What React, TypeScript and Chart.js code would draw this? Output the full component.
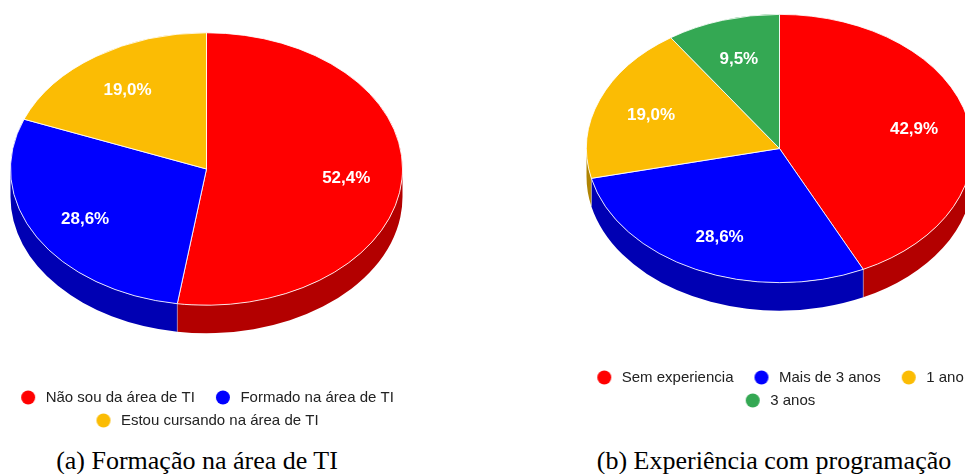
import React, { useEffect, useRef } from 'react';
import { Chart, registerables } from 'chart.js';

Chart.register(...registerables);

// ---- data ----
const formacaoLabels = ['Não sou da área de TI', 'Formado na área de TI', 'Estou cursando na área de TI'];
const formacaoValues = [11, 6, 4];
const formacaoColors = ['#ff0000', '#0000ff', '#fbbc04'];
const formacaoSideColors = ['#b30000', '#0000b3', '#b08403'];

const experienciaLabels = ['Sem experiencia', 'Mais de 3 anos', '1 ano', '3 anos'];
const experienciaValues = [9, 6, 4, 2];
const experienciaColors = ['#ff0000', '#0000ff', '#fbbc04', '#34a853'];
const experienciaSideColors = ['#b30000', '#0000b3', '#b08403', '#24763a'];

const captionA = '(a) Formação na área de TI';
const captionB = '(b) Experiência com programação';

const SANS = 'Arial, "Liberation Sans", sans-serif';

function makeDot(color: string) {
  const c = document.createElement('canvas');
  c.width = 30;
  c.height = 15;
  const g = c.getContext('2d')!;
  g.fillStyle = color;
  g.beginPath();
  g.arc(20, 7.5, 7, 0, Math.PI * 2);
  g.fill();
  return c;
}

function makePie3d(sideColors: string[], ratio: number, depth: number, lift: number, shiftX: number) {
  let state: any = null;
  return {
    id: 'pie3d',
    beforeDatasetsDraw(chart: any) {
      const meta = chart.getDatasetMeta(0);
      const arcs = meta.data;
      if (!arcs.length) return;
      const p = arcs[0].getProps(['x', 'y', 'outerRadius'], true);
      const cx = p.x + shiftX, cy = p.y, r = p.outerRadius;
      const ry = r * ratio;
      const topCy = cy - lift;
      state = { cx, cy, r, ry, topCy };
      const ctx = chart.ctx;
      // side walls
      arcs.forEach((arc: any, i: number) => {
        const { startAngle: s, endAngle: e } = arc.getProps(['startAngle', 'endAngle'], true);
        const a = Math.max(s, 0);
        const b = Math.min(e, Math.PI);
        if (a >= b) return;
        ctx.beginPath();
        ctx.ellipse(cx, topCy, r, ry, 0, a, b, false);
        ctx.ellipse(cx, topCy + depth, r, ry, 0, b, a, true);
        ctx.closePath();
        ctx.fillStyle = sideColors[i];
        ctx.fill();
      });
      // seams on the side
      ctx.save();
      ctx.strokeStyle = 'rgba(255,255,255,0.35)';
      ctx.lineWidth = 1;
      arcs.forEach((arc: any) => {
        const { startAngle: s } = arc.getProps(['startAngle'], true);
        const ang = ((s % (Math.PI * 2)) + Math.PI * 2) % (Math.PI * 2);
        if (ang > 0.01 && ang < Math.PI - 0.01) {
          const x = cx + r * Math.cos(ang);
          const y = topCy + ry * Math.sin(ang);
          ctx.beginPath();
          ctx.moveTo(x, y);
          ctx.lineTo(x, y + depth);
          ctx.stroke();
        }
      });
      ctx.restore();
      // squash the top face
      ctx.save();
      ctx.translate(shiftX, topCy);
      ctx.scale(1, ratio);
      ctx.translate(0, -cy);
    },
    afterDatasetsDraw(chart: any) {
      if (!state) return;
      const ctx = chart.ctx;
      ctx.restore();
      const { cx, r, ry, topCy } = state;
      const meta = chart.getDatasetMeta(0);
      const values: number[] = chart.data.datasets[0].data;
      const total = values.reduce((s2, v) => s2 + v, 0);
      ctx.save();
      ctx.font = 'bold 17px ' + SANS;
      ctx.fillStyle = '#ffffff';
      ctx.textAlign = 'center';
      ctx.textBaseline = 'middle';
      meta.data.forEach((arc: any, i: number) => {
        const { startAngle: s, endAngle: e } = arc.getProps(['startAngle', 'endAngle'], true);
        const mid = (s + e) / 2;
        const f = 0.715;
        const x = cx + Math.cos(mid) * r * f;
        const y = topCy + Math.sin(mid) * ry * f + 2;
        const txt = ((values[i] / total) * 100).toFixed(1).replace('.', ',') + '%';
        ctx.fillText(txt, x, y);
      });
      ctx.restore();
    },
  };
}

type PieProps = {
  labels: string[];
  values: number[];
  colors: string[];
  sideColors: string[];
  left: number;
  top: number;
  height: number;
  lift: number;
};

function Pie3D({ labels, values, colors, sideColors, left, top, height, lift }: PieProps) {
  const ref = useRef<HTMLCanvasElement | null>(null);
  useEffect(() => {
    if (!ref.current) return;
    const dots = colors.map(makeDot);
    const chart = new Chart(ref.current, {
      type: 'pie',
      data: {
        labels,
        datasets: [
          {
            data: values,
            backgroundColor: colors,
            borderColor: '#ffffff',
            borderWidth: 1,
          },
        ],
      },
      options: {
        responsive: false,
        animation: false,
        events: [],
        layout: { padding: 0 },
        plugins: {
          tooltip: { enabled: false },
          legend: {
            position: 'bottom',
            labels: {
              usePointStyle: true,
              pointStyleWidth: 30,
              padding: 8,
              color: '#222222',
              font: { family: SANS, size: 15 },
              generateLabels: () =>
                labels.map((t, i) => ({
                  text: t,
                  fillStyle: colors[i],
                  strokeStyle: colors[i],
                  fontColor: '#222222',
                  lineWidth: 0,
                  pointStyle: dots[i],
                  hidden: false,
                  index: i,
                })),
            },
          },
        },
      } as any,
      plugins: [makePie3d(sideColors, 0.695, 28, lift, 5.5) as any],
    });
    return () => chart.destroy();
  }, []);
  return (
    <canvas
      ref={ref}
      width={440}
      height={height}
      style={{ position: 'absolute', left, top, width: 440, height }}
    />
  );
}

const captionStyle: React.CSSProperties = {
  position: 'absolute',
  top: 446,
  fontFamily: '"Times New Roman", "Liberation Serif", serif',
  fontSize: 26,
  color: '#000',
  whiteSpace: 'pre',
  transform: 'translateX(-50%)',
};

export default function App() {
  return (
    <div
      style={{
        position: 'fixed',
        left: 0,
        top: 0,
        width: 965,
        height: 474,
        overflow: 'hidden',
        background: '#ffffff',
      }}
    >
      <Pie3D
        labels={formacaoLabels}
        values={formacaoValues}
        colors={formacaoColors}
        sideColors={formacaoSideColors}
        left={-19}
        top={-11}
        height={449}
        lift={16.5}
      />
      <Pie3D
        labels={experienciaLabels}
        values={experienciaValues}
        colors={experienciaColors}
        sideColors={experienciaSideColors}
        left={554}
        top={-25}
        height={443}
        lift={20}
      />
      <div style={{ ...captionStyle, left: 197 }}>{captionA}</div>
      <div style={{ ...captionStyle, left: 774 }}>{captionB}</div>
    </div>
  );
}
